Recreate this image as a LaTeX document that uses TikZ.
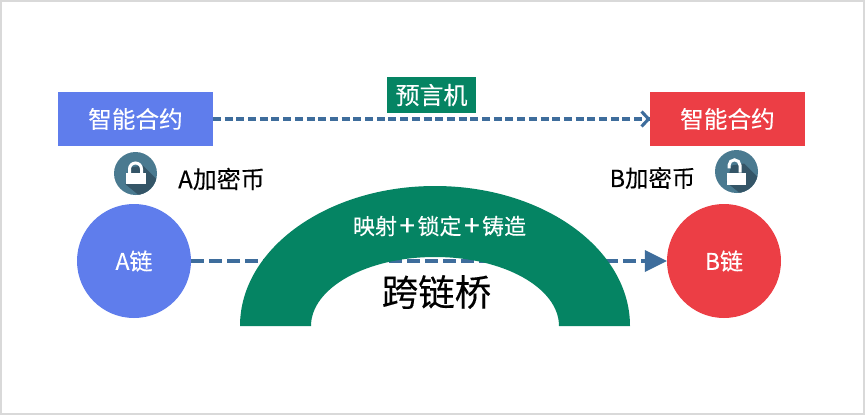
\documentclass[tikz,border=0pt]{standalone}
\usepackage{fontspec}
\setmainfont[FakeBold=0.2]{Noto Sans CJK SC}
\definecolor{ablue}{HTML}{5F7DEC}
\definecolor{bred}{HTML}{EC3E45}
\definecolor{bridgecol}{HTML}{058463}
\definecolor{dashcol}{HTML}{3E6D9C}
\definecolor{lockbg}{HTML}{4A7A90}
\definecolor{lockshadow}{HTML}{345567}
\definecolor{framecol}{HTML}{D9D9D9}
\tikzset{
  x=1pt,y=-1pt,
  box/.style={draw=none,minimum width=154.5pt,minimum height=54pt,inner sep=0pt,text=white,font=\fontsize{23.6}{26}\selectfont},
  chain/.style={circle,minimum size=114pt,inner sep=0pt,text=white,font=\fontsize{23}{26}\selectfont},
  lbl/.style={inner sep=0pt,text=black,font=\fontsize{24}{28}\selectfont},
  flow/.style={draw=dashcol,line width=3.1pt,dash pattern=on 8pt off 3.7pt},
  thickflow/.style={draw=dashcol,line width=4.6pt,dash pattern=on 13pt off 5pt},
}
\newcommand{\lockdisc}{%
  \fill[lockbg] (0,0) circle[radius=21.5];
  \begin{scope}
    \clip (0,0) circle[radius=21.5];
    \fill[lockshadow] (7.5,-8) -- (32,16.5) -- (16,32) -- (-10,10.8) -- (-5,-6) -- cycle;
  \end{scope}}
\newcommand{\plusgap}{\hspace{2.5pt}\raisebox{-1.2pt}{\fontsize{28}{28}\selectfont +}\hspace{2.5pt}}
\begin{document}
\begin{tikzpicture}
\useasboundingbox (0,0) rectangle (865,415);
\fill[white] (0,0) rectangle (865,415);
\draw[framecol,line width=2pt] (1,1) rectangle (864,414);

\node[box,fill=ablue] (sa) at (135.5,119) {智能合约};
\node[box,fill=bred] (sb) at (727.5,119) {智能合约};
\node[fill=bridgecol,text=white,minimum width=89pt,minimum height=36pt,inner sep=0pt,font=\fontsize{24}{28}\selectfont] (oracle) at (431.5,95) {预言机};

\node[chain,fill=ablue] (ca) at (134,261) {A链};
\node[chain,fill=bred] (cb) at (724,261) {B链};

\draw[flow] (sa) -- (sb);
\draw[dashcol,line width=3.1pt,line join=round] ([shift={(-8.5,-7.5)}]sb.west) -- ([shift={(-1.5,0)}]sb.west) -- ([shift={(-8.5,7.5)}]sb.west);

\draw[thickflow] (ca) -- ([xshift=-22pt]cb.west) coordinate (headbase);
\fill[dashcol] (headbase) ++(0,-11) -- (cb.west) -- ++(-22,11) -- cycle;

\fill[bridgecol] (240,326) arc[start angle=180,end angle=360,x radius=195,y radius=140]
  -- (559,326) arc[start angle=360,end angle=180,x radius=124,y radius=69] -- cycle;

\node[inner sep=0pt,text=white,font=\fontsize{22}{25}\selectfont] (map) at (439.5,226) {映射\plusgap 锁定\plusgap 铸造};
\node[inner sep=0pt,text=black,font=\fontsize{36.5}{40}\selectfont] (bridgelabel) at (436.5,292) {跨链桥};
\node[lbl,anchor=west] (atok) at (178,179) {A加密币};
\node[lbl,anchor=west,font=\fontsize{23.4}{28}\selectfont] (btok) at (609.5,178) {B加密币};

\begin{scope}[shift={(135.5,173.5)}]
  \lockdisc
  \fill[white] (-10,-0.2) rectangle (10,10.8);
  \draw[white,line width=3pt] (-6,0) -- (-6,-4.5) arc[start angle=180,end angle=360,radius=6] -- (6,0);
\end{scope}
\begin{scope}[shift={(736.5,171.5)}]
  \lockdisc
  \fill[white] (-9.8,1) rectangle (9.4,13);
  \draw[white,line width=3pt] (3.5,1) -- (3.5,-6.2) arc[start angle=360,end angle=180,radius=5.5] -- ++(0,3);
\end{scope}
\end{tikzpicture}
\end{document}
